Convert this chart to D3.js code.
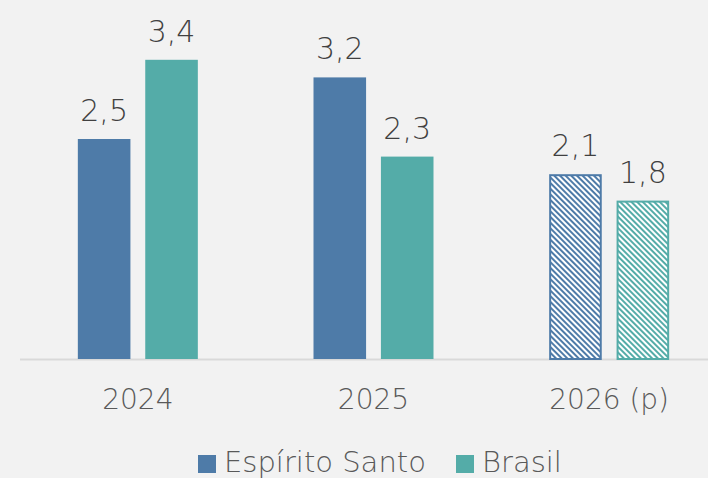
<!DOCTYPE html>
<html>
<head>
<meta charset="utf-8">
<script src="https://cdn.jsdelivr.net/npm/d3@7"></script>
<style>
  html, body { margin: 0; padding: 0; background: #f2f2f2; }
  svg { display: block; font-family: "DejaVu Sans", sans-serif; font-weight: 200; }
</style>
</head>
<body>
<svg id="chart" width="708" height="478"></svg>
<script>
const years = ["2024", "2025", "2026 (p)"];
const seriesNames = ["Espírito Santo", "Brasil"];
const espiritoSanto = [2.5, 3.2, 2.1];
const brasil = [3.4, 2.3, 1.8];
const projected = [false, false, true];

const COLORS = ["#4e7ba8", "#54aca8"];
const BASE_Y = 359;

const svg = d3.select("#chart");

// plot area runs past the right edge of the picture, like the reference crop
const x = d3.scaleBand().domain(years).range([20, 727]);
const y = d3.scaleLinear().domain([0, 1]).range([BASE_Y, BASE_Y - 88]);

const inner = d3.scaleBand().domain(seriesNames).range([-60, 60]).paddingInner(0.22);

// hatch patterns for the projected year
const defs = svg.append("defs");
COLORS.forEach((c, i) => {
  const p = defs.append("pattern")
    .attr("id", "hatch" + i)
    .attr("patternUnits", "userSpaceOnUse")
    .attr("width", 4)
    .attr("height", 4)
    .attr("patternTransform", "rotate(-45)");
  p.append("rect").attr("width", 4).attr("height", 4).attr("fill", "#fff");
  p.append("rect").attr("width", 2).attr("height", 4).attr("fill", c);
});

// baseline
svg.append("line")
  .attr("x1", 20).attr("x2", 708)
  .attr("y1", BASE_Y + 0.5).attr("y2", BASE_Y + 0.5)
  .attr("stroke", "#d9d9d9").attr("stroke-width", 2);

const rows = years.map((yr, i) => ({
  year: yr,
  proj: projected[i],
  vals: [espiritoSanto[i], brasil[i]],
}));

const groups = svg.selectAll("g.year")
  .data(rows)
  .join("g")
  .attr("class", "year")
  .attr("transform", (d) => `translate(${x(d.year) + x.bandwidth() / 2},0)`);

groups.each(function (d) {
  const g = d3.select(this);
  d.vals.forEach((v, k) => {
    const name = seriesNames[k];
    const bx = inner(name);
    const bw = inner.bandwidth();
    if (d.proj) {
      g.append("rect")
        .attr("x", bx + 1).attr("y", y(v) + 1)
        .attr("width", bw - 2).attr("height", BASE_Y - y(v) - 1)
        .attr("fill", `url(#hatch${k})`)
        .attr("stroke", COLORS[k]).attr("stroke-width", 2);
    } else {
      g.append("rect")
        .attr("x", bx).attr("y", y(v))
        .attr("width", bw).attr("height", BASE_Y - y(v))
        .attr("fill", COLORS[k]);
    }
    g.append("text")
      .attr("x", bx + bw / 2)
      .attr("y", y(v) - 18)
      .attr("text-anchor", "middle")
      .attr("font-size", 30)
      .attr("fill", "#404040")
      .text(d3.format(".1f")(v).replace(".", ","));
  });
});

// category labels
svg.selectAll("text.cat")
  .data(years)
  .join("text")
  .attr("class", "cat")
  .attr("x", (d) => x(d) + x.bandwidth() / 2)
  .attr("y", 409)
  .attr("text-anchor", "middle")
  .attr("font-size", 28)
  .attr("fill", "#595959")
  .text((d) => d);

// legend
const legend = svg.append("g").attr("transform", "translate(198,0)");
const legendX = [0, 258];
seriesNames.forEach((name, k) => {
  legend.append("rect")
    .attr("x", legendX[k]).attr("y", 455)
    .attr("width", 18).attr("height", 18)
    .attr("fill", COLORS[k]);
  legend.append("text")
    .attr("x", legendX[k] + 26).attr("y", 472)
    .attr("font-size", 29)
    .attr("fill", "#595959")
    .text(name);
});
</script>
</body>
</html>
